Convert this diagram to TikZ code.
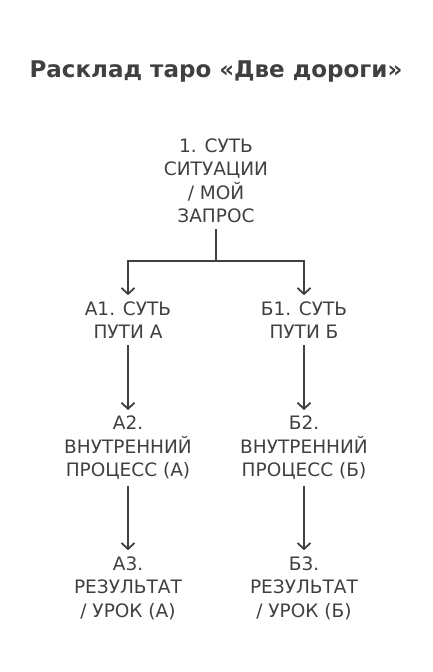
\documentclass[tikz,border=0pt]{standalone}
\usepackage{fontspec}
\setmainfont{DejaVu Sans}
\usetikzlibrary{arrows.meta}
\definecolor{ink}{HTML}{404040}
\tikzset{
  lbl/.style={align=center, text=ink, inner xsep=0pt, inner ysep=6pt,
    font=\fontsize{18.5}{23.5}\selectfont},
  conn/.style={draw=ink, line width=1.8pt},
  arr/.style={conn, -{Straight Barb[length=6pt,width=13pt,line width=1.8pt]}}
}
\begin{document}
\begin{tikzpicture}[x=1pt,y=-1pt]
\useasboundingbox (0,0) rectangle (432,672);
\node[text=ink, font=\bfseries\fontsize{23}{28}\selectfont] (title) at (216,72) {Расклад таро «Две дороги»};
\node[lbl] (n1) at (216,181) {1. СУТЬ\\СИТУАЦИИ\\/ МОЙ\\ЗАПРОС};
\node[lbl] (a1) at (128,320) {А1. СУТЬ\\ПУТИ А};
\node[lbl] (b1) at (304,320) {Б1. СУТЬ\\ПУТИ Б};
\node[lbl] (a2) at (128,448) {А2.\\ВНУТРЕННИЙ\\ПРОЦЕСС (А)};
\node[lbl] (b2) at (304,448) {Б2.\\ВНУТРЕННИЙ\\ПРОЦЕСС (Б)};
\node[lbl] (a3) at (128,588) {А3.\\РЕЗУЛЬТАТ\\/ УРОК (А)};
\node[lbl] (b3) at (304,588) {Б3.\\РЕЗУЛЬТАТ\\/ УРОК (Б)};
\coordinate (fork) at (216,261);
\draw[conn] (n1.south) -- (fork);
\draw[arr] (fork) -| (a1.north);
\draw[arr] (fork) -| (b1.north);
\draw[arr] (a1) -- (a2);
\draw[arr] (b1) -- (b2);
\draw[arr] (a2) -- (a3);
\draw[arr] (b2) -- (b3);
\end{tikzpicture}
\end{document}
